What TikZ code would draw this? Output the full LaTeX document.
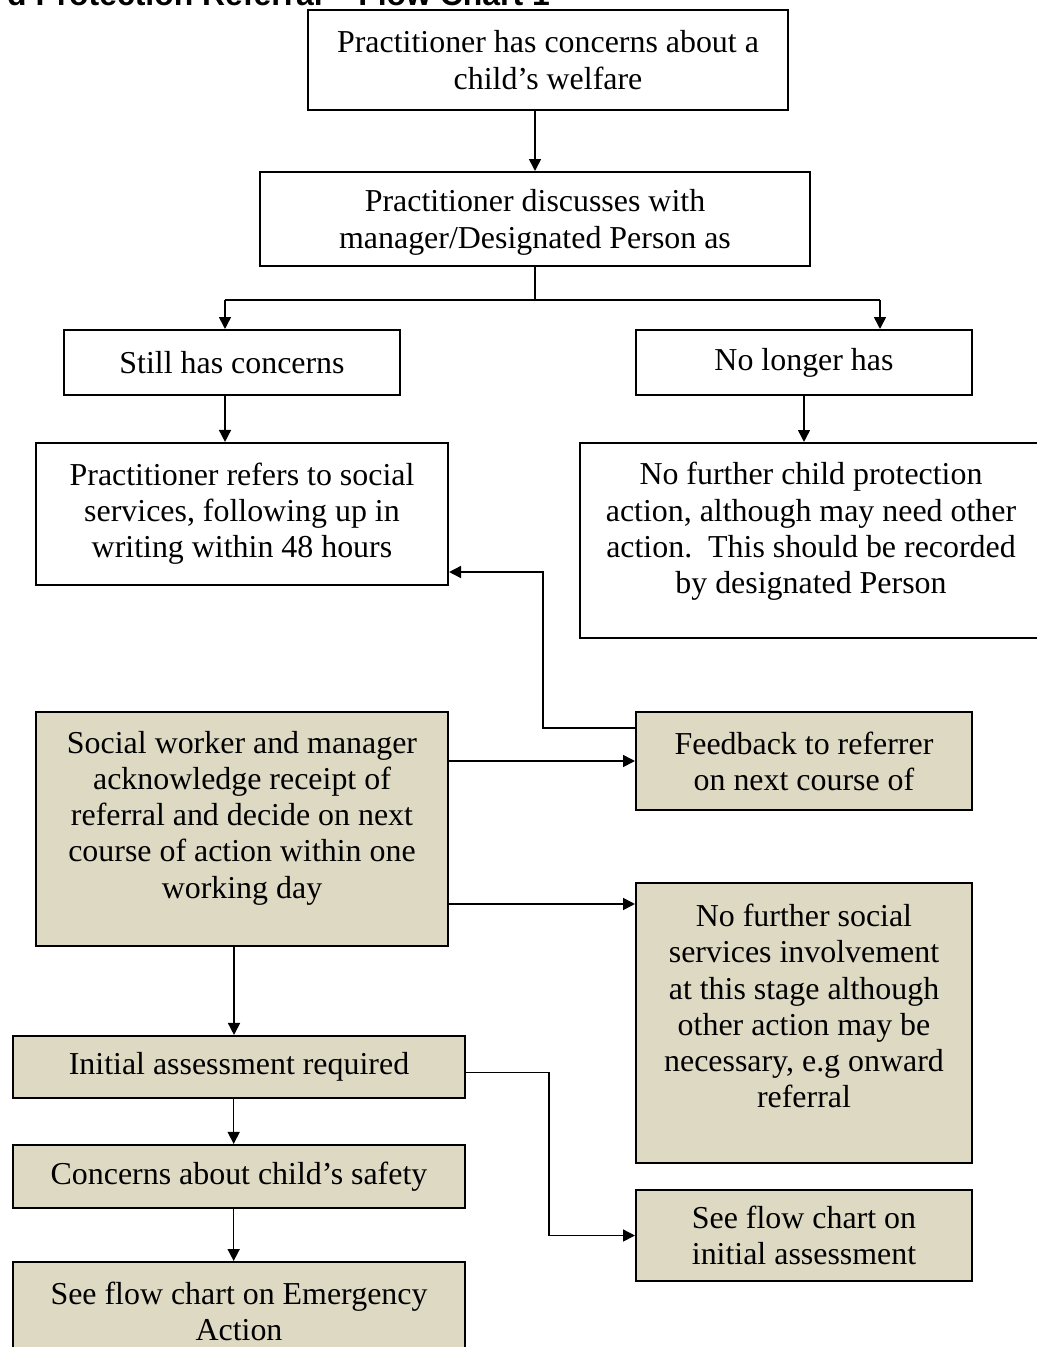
\documentclass[tikz,border=0pt,12pt]{standalone}
\usepackage{fontspec}
\setmainfont{Liberation Serif}
\newfontfamily\titlefont{Liberation Sans}
\usepackage{xcolor}
\usetikzlibrary{arrows.meta}
\definecolor{boxtan}{HTML}{DDD9C3}

\begin{document}
\begin{tikzpicture}[x=0.376pt, y=-0.376pt]
  \tikzstyle{BoxStyle}=[draw, line width=0.8pt, align=center, inner sep=2pt,
                        font=\fontsize{12}{13.6}\selectfont]
  \tikzstyle{TanBox}=[BoxStyle, fill=boxtan]
  \tikzstyle{LineStyle}=[line width=0.6pt]
  \tikzstyle{EdgeStyle}=[LineStyle, -{Triangle[length=4.5pt,width=4.5pt]}]
 \path[use as bounding box, clip] (0,0) rectangle (1037,1347);
 \node[anchor=base west, font=\titlefont\bfseries\fontsize{12}{14}\selectfont]
   (title) at (-4,5) {d Protection Referral – Flow Chart 1};
 % white boxes
 \node[BoxStyle, minimum width=180.5pt, minimum height=37.6pt] (concern) at (548,60)
   {Practitioner has concerns about a\\ child’s welfare};
 \node[BoxStyle, minimum width=206.8pt, minimum height=35.3pt, text depth=-1.2pt]
   (discuss) at (535,219)
   {Practitioner discusses with\\ manager/Designated Person as};
 \node[BoxStyle, minimum width=126.3pt, minimum height=24.4pt] (still) at (232,362.5)
   {Still has concerns};
 \node[BoxStyle, minimum width=126.3pt, minimum height=24.4pt] (nolonger) at (804,362.5)
   {No longer has};
 \node[BoxStyle, minimum width=154.9pt, minimum height=53.4pt] (refers) at (242,514)
   {Practitioner refers to social\\ services, following up in\\ writing within 48 hours};
 \node[BoxStyle, minimum width=173.7pt, minimum height=73.3pt, text depth=9.4pt]
   (nofurther) at (811,540.5)
   {No further child protection\\ action, although may need other\\ action.\ \ This should be recorded\\ by designated Person};
 % shaded boxes
 \node[TanBox, minimum width=154.9pt, minimum height=88pt, text depth=10.8pt]
   (social) at (242,829)
   {Social worker and manager\\ acknowledge receipt of\\ referral and decide on next\\ course of action within one\\ working day};
 \node[TanBox, minimum width=126.3pt, minimum height=36.8pt] (feedback) at (804,761)
   {Feedback to referrer\\ on next course of};
 \node[TanBox, minimum width=126.3pt, minimum height=105.3pt, text depth=12.8pt]
   (nosocial) at (804,1023)
   {No further social\\ services involvement\\ at this stage although\\ other action may be\\ necessary, e.g onward\\ referral};
 \node[TanBox, minimum width=170pt, minimum height=23.3pt] (initial) at (239,1067)
   {Initial assessment required};
 \node[TanBox, minimum width=170pt, minimum height=23.7pt] (safety) at (239,1176.5)
   {Concerns about child’s safety};
 \node[TanBox, minimum width=170pt, minimum height=36.8pt] (emergency) at (239,1311)
   {See flow chart on Emergency\\ Action};
 \node[TanBox, minimum width=126.3pt, minimum height=34.2pt] (seeinit) at (804,1235.5)
   {See flow chart on\\ initial assessment};
 % connectors
 \coordinate (splitL) at (225,300);
 \coordinate (splitR) at (880,300);
 \coordinate (back) at (543,572);
 \draw[EdgeStyle] (concern.south -| discuss.north) -- (discuss.north);
 \draw[LineStyle] (discuss.south) -- (discuss.south |- splitL);
 \draw[LineStyle] (splitL) -- (splitR);
 \draw[EdgeStyle] (splitL) -- (splitL |- still.north);
 \draw[EdgeStyle] (splitR) -- (splitR |- nolonger.north);
 \draw[EdgeStyle] (splitL |- still.south) -- (splitL |- refers.north);
 \draw[EdgeStyle] (nolonger.south) -- (nolonger.south |- nofurther.north);
 \draw[EdgeStyle] (feedback.west -| social.east) -- (feedback.west);
 \draw[EdgeStyle] ([yshift=12.4pt]feedback.west) -| (back) -- (refers.east |- back);
 \draw[EdgeStyle] ([yshift=-8.3pt]nosocial.north west -| social.east)
   -- ([yshift=-8.3pt]nosocial.north west);
 \draw[EdgeStyle] ([xshift=-3pt]social.south) -- ([xshift=-3pt]social.south |- initial.north);
 \draw[EdgeStyle] ([yshift=-2pt]initial.east) -| ([xshift=-32.3pt]seeinit.west) -- (seeinit.west);
 \draw[EdgeStyle] ([xshift=-2pt]initial.south) -- ([xshift=-2pt]safety.north);
 \draw[EdgeStyle] ([xshift=-2pt]safety.south) -- ([xshift=-2pt]emergency.north);
\end{tikzpicture}
\end{document}
